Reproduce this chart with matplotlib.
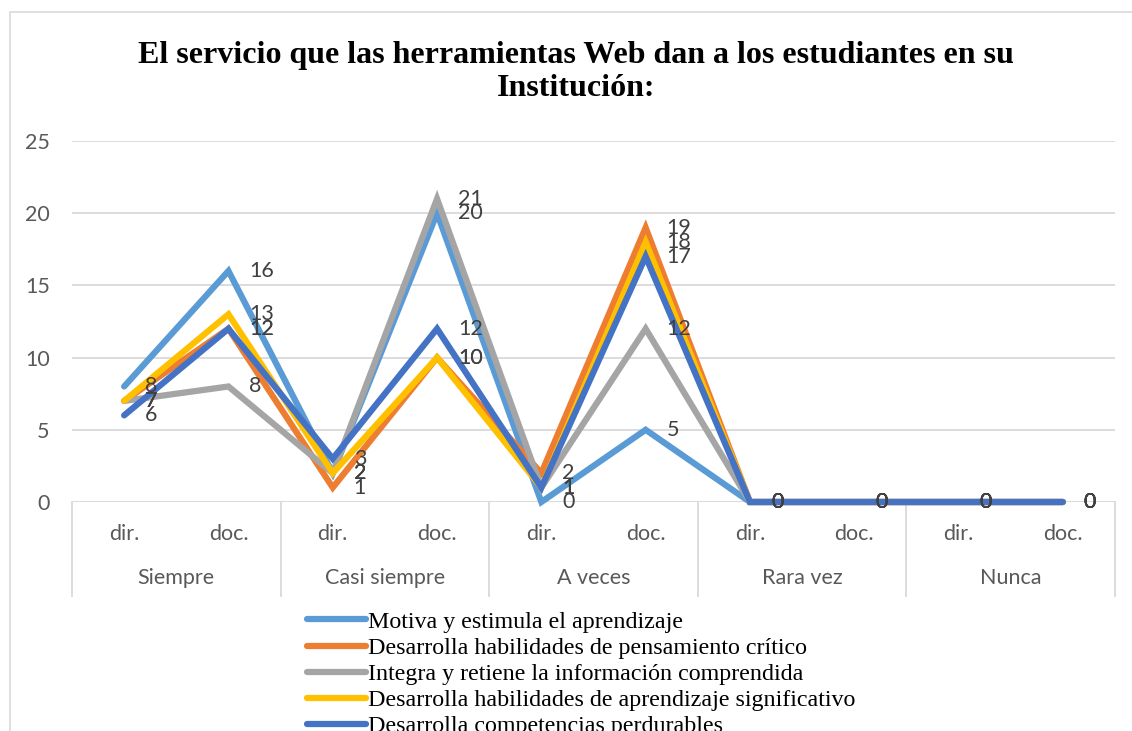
import matplotlib
matplotlib.use("Agg")
import matplotlib.pyplot as plt
from matplotlib.patches import Rectangle
import matplotlib.transforms as mtransforms

# ---- data ----
groups = ["Siempre", "Casi siempre", "A veces", "Rara vez", "Nunca"]
sub_labels = ["dir.", "doc."]
series_names = [
    "Motiva y estimula el aprendizaje",
    "Desarrolla habilidades de pensamiento crítico",
    "Integra y retiene la información comprendida",
    "Desarrolla habilidades de aprendizaje significativo",
    "Desarrolla competencias perdurables",
]
motiva = [8, 16, 2, 20, 0, 5, 0, 0, 0, 0]
critico = [7, 12, 1, 10, 2, 19, 0, 0, 0, 0]
integra = [7, 8, 2, 21, 1, 12, 0, 0, 0, 0]
significativo = [7, 13, 2, 10, 1, 18, 0, 0, 0, 0]
perdurables = [6, 12, 3, 12, 1, 17, 0, 0, 0, 0]
colors = ["#5B9BD5", "#ED7D31", "#A5A5A5", "#FFC000", "#4472C4"]
title = "El servicio que las herramientas Web dan a los estudiantes en su\nInstitución:"

W, H = 1132, 731
fig = plt.figure(figsize=(W / 100, H / 100), dpi=100)
fig.patch.set_facecolor("white")

# chart border
fig.add_artist(Rectangle((10 / W, -0.1), 1.2, 1 - 12 / H + 0.1, transform=fig.transFigure,
                         fill=False, edgecolor="#d9d9d9", linewidth=1.2))

ax = fig.add_axes([72 / W, 1 - 502 / H, (1115 - 72) / W, (502 - 141) / H])
ax.set_xlim(-0.5, 9.5)
ax.set_ylim(0, 25)
for s in ax.spines.values():
    s.set_visible(False)
ax.set_yticks([0, 5, 10, 15, 20, 25])
ax.yaxis.grid(True, color="#d9d9d9", linewidth=1.3)
ax.set_axisbelow(True)
ax.tick_params(axis="y", length=0, pad=16, labelsize=15.5, labelcolor="#595959")
ax.set_xticks(range(10))
ax.set_xticklabels(sub_labels * 5)
ax.tick_params(axis="x", length=0, pad=16, labelsize=15.5, labelcolor="#595959")
for lab in ax.get_xticklabels() + ax.get_yticklabels():
    lab.set_fontfamily("Lato")

# category axis line and separators
ax.axhline(0, color="#d9d9d9", linewidth=1.3, zorder=1)
trans = mtransforms.blended_transform_factory(ax.transData, ax.transAxes)
axh = 502 - 141
for b in [-0.5, 1.5, 3.5, 5.5, 7.5, 9.5]:
    ax.plot([b, b], [0, -(596 - 502) / axh], transform=trans, color="#d9d9d9",
            linewidth=1.3, clip_on=False)
for i, g in enumerate(groups):
    ax.text(2 * i + 0.5, -(578 - 502) / axh, g, transform=trans, ha="center", va="center",
            fontsize=15.5, color="#595959", family="Lato")

all_series = [motiva, critico, integra, significativo, perdurables]
x = list(range(10))
for vals, c, name in zip(all_series, colors, series_names):
    ax.plot(x, vals, color=c, linewidth=4.5, solid_joinstyle="miter", solid_capstyle="round",
            label=name, clip_on=False, zorder=3)
for vals in all_series:
    for xi, v in zip(x, vals):
        ax.annotate(str(v), (xi, v), xytext=(21, 0), textcoords="offset pixels",
                    ha="left", va="center", fontsize=15.5, color="#404040", family="Lato",
                    annotation_clip=False, zorder=4)

fig.text(576 / W, 1 - 72 / H, title, ha="center", va="center", fontsize=23,
         fontweight="bold", family="Liberation Serif", linespacing=1.2)

handles, labels = ax.get_legend_handles_labels()
leg = fig.legend(handles, labels, loc="upper left", bbox_to_anchor=(307 / W, 1 - 611 / H),
                 frameon=False, prop={"family": "Liberation Serif", "size": 17.3},
                 handlelength=2.45, handletextpad=0.1, labelspacing=0.18, borderpad=0,
                 borderaxespad=0)
for line in leg.get_lines():
    line.set_linewidth(4.5)

fig.savefig("out.png", dpi=100)
